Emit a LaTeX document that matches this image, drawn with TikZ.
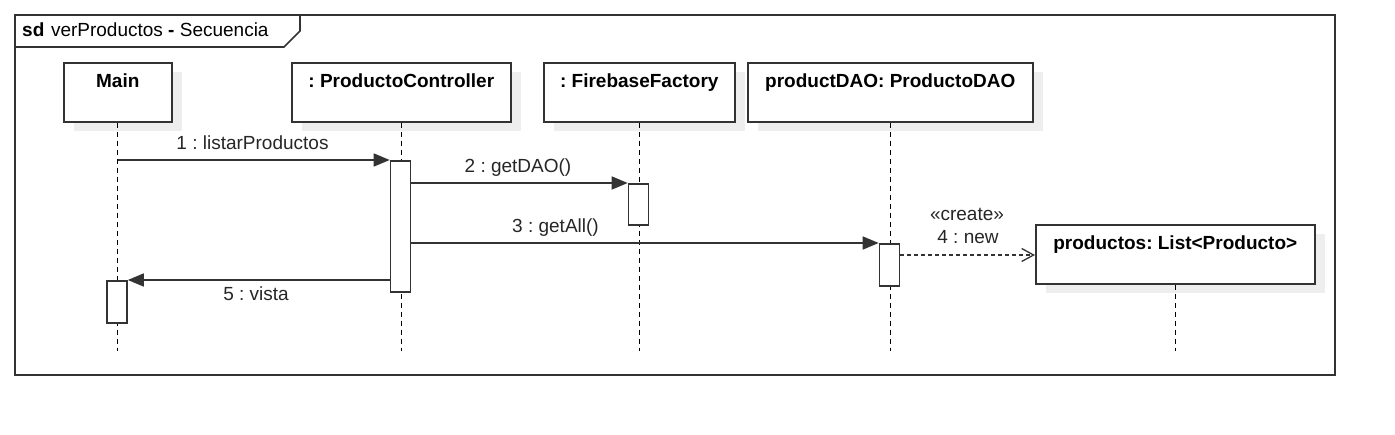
\documentclass[tikz,border=0pt]{standalone}
\usepackage{fontspec}
\setmainfont{Liberation Sans}
\usetikzlibrary{arrows.meta,shadows}
\definecolor{ln}{HTML}{333333}
\definecolor{shd}{HTML}{EEEEEE}
\frenchspacing
\tikzset{
  frameline/.style={draw=ln,line width=1.6pt},
  headbox/.style={draw=ln,line width=1.6pt,fill=white,anchor=north west,inner sep=0pt,
    minimum height=59pt,drop shadow={shadow xshift=10pt,shadow yshift=-9pt,fill=shd,opacity=1}},
  headtxt/.style={anchor=base,inner sep=0pt,font=\fontsize{19}{22}\selectfont\bfseries},
  actbox/.style={draw=ln,line width=1.6pt,fill=white,anchor=north,inner sep=0pt,minimum width=20pt},
  lifeline/.style={draw=black,line width=1.1pt,dash pattern=on 5pt off 4pt},
  msg/.style={draw=ln,line width=1.6pt,-{Triangle[length=16pt,width=13pt]}},
  createmsg/.style={draw=ln,line width=1.3pt,dash pattern=on 4pt off 3pt,-{Straight Barb[length=12pt,width=13pt,line width=1.3pt]}},
  lbl/.style={anchor=base,inner sep=0pt,font=\fontsize{19}{22}\selectfont,text=black!85}
}
\begin{document}
\begin{tikzpicture}[x=1pt,y=-1pt]
\useasboundingbox (0,0) rectangle (1395,435);
% frame
\draw[frameline] (15,15) rectangle (1335,375);
\draw[frameline,fill=white] (15,15) -- (300,15) -- (300,31) -- (284,47) -- (15,47) -- cycle;
\node[anchor=base west,inner sep=0pt,font=\fontsize{19}{22}\selectfont] (title) at (22,37)
  {\textbf{sd}\hspace{0.35em}verProductos \textbf{-} Secuencia};

% heads
\node[headbox,minimum width=108pt] (main) at (63,62) {};
\node[headbox,minimum width=219pt] (ctrl) at (291,62) {};
\node[headbox,minimum width=191pt] (fire) at (543,62) {};
\node[headbox,minimum width=285pt] (dao) at (747,62) {};
\node[headbox,minimum width=279pt] (list) at (1035,224) {};
\node[headtxt] (mainT) at ([yshift=-26pt]main.north) {Main};
\node[headtxt] (ctrlT) at ([yshift=-26pt]ctrl.north) {: ProductoController};
\node[headtxt] (fireT) at ([yshift=-26pt]fire.north) {: FirebaseFactory};
\node[headtxt] (daoT) at ([yshift=-26pt]dao.north) {productDAO: ProductoDAO};
\node[headtxt] (listT) at ([yshift=-26pt]list.north) {productos: List<Producto>};

% lifelines
\coordinate (bot) at (0,351);
\draw[lifeline] (main.south) -- (main.south |- bot);
\draw[lifeline] (ctrl.south) -- (ctrl.south |- bot);
\draw[lifeline] (fire.south) -- (fire.south |- bot);
\draw[lifeline] (dao.south) -- (dao.south |- bot);
\draw[lifeline] (list.south) -- (list.south |- bot);

% activations
\node[actbox,minimum height=131pt] (c1) at (400.5,160) {};
\node[actbox,minimum height=41pt] (f1) at (638.5,183) {};
\node[actbox,minimum height=42pt] (d1) at (889.5,243) {};
\node[actbox,minimum height=42pt] (a1) at (117,280) {};

% messages
\draw[msg] (main.south |- c1.north) -- (c1.north west);
\draw[msg] (c1.east |- f1.north) -- (f1.north west);
\draw[msg] (c1.east |- d1.north) -- (d1.north west);
\coordinate (m4) at (0,255);
\draw[createmsg] (d1.east |- m4) -- (list.west |- m4);
\draw[msg] (c1.west |- a1.north) -- (a1.north east);

% labels
\node[lbl] (l1) at (252.5,150) {1 : listarProductos};
\node[lbl] (l2) at (518,173) {2 : getDAO()};
\node[lbl] (l3) at (555.5,233) {3 : getAll()};
\node[lbl] (l4s) at (967,220.5) {«create»};
\node[lbl] (l4) at (968,244) {4 : new};
\node[lbl] (l5) at (256,300.5) {5 : vista};
\end{tikzpicture}
\end{document}
